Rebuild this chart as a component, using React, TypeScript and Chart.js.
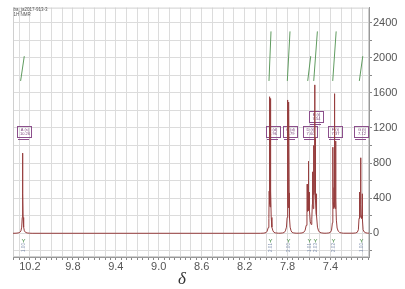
import { useEffect, useRef } from 'react';
import { Chart, registerables } from 'chart.js';

Chart.register(...registerables);

const sampleName = 'ba_ja2017-913-3';
const experimentName = '1H NMR';
const axisTitle = 'δ';

const xLabelValues = [10.2, 9.8, 9.4, 9.0, 8.6, 8.2, 7.8, 7.4];
const yLabelValues = [0, 400, 800, 1200, 1600, 2000, 2400];
const yTickValues = [-200, 0, 200, 400, 600, 800, 1000, 1200, 1400, 1600, 1800, 2000, 2200, 2400];

// spectrum segments: [ppm, intensity]
const signal1026 = [
  [10.358, 0], [10.33, 1], [10.31, 4], [10.295, 10], [10.284, 28], [10.277, 70], [10.272, 180],
  [10.27, 450], [10.268, 913], [10.266, 450], [10.264, 180], [10.259, 70], [10.252, 28],
  [10.241, 10], [10.226, 4], [10.205, 1], [10.18, 0],
];
const signal796 = [
  [8.05, 0], [8.02, 2], [8.0, 8], [7.99, 24], [7.98, 65], [7.974, 170], [7.971, 480], [7.969, 1555],
  [7.967, 480], [7.965, 330], [7.963, 300], [7.961, 330], [7.959, 480], [7.957, 1535], [7.955, 480],
  [7.952, 180], [7.946, 70], [7.936, 28], [7.926, 10], [7.91, 4], [7.885, 1],
];
const signal779 = [
  [7.87, 1], [7.845, 4], [7.83, 10], [7.82, 28], [7.81, 70], [7.804, 180], [7.801, 470], [7.799, 1518],
  [7.797, 470], [7.795, 320], [7.793, 290], [7.791, 320], [7.789, 460], [7.787, 1495], [7.785, 460],
  [7.782, 175], [7.776, 70], [7.767, 28], [7.757, 10], [7.742, 4], [7.72, 1],
];
const signal760 = [
  [7.69, 1], [7.665, 4], [7.648, 12], [7.636, 35], [7.626, 90], [7.619, 250], [7.617, 560], [7.615, 280],
  [7.612, 250], [7.609, 360], [7.607, 820], [7.605, 360], [7.602, 260], [7.599, 280], [7.597, 470],
  [7.595, 260], [7.588, 130], [7.58, 100], [7.574, 160], [7.569, 330], [7.567, 700], [7.565, 330],
];
const signal754 = [
  [7.561, 280], [7.558, 420], [7.556, 1000], [7.554, 440], [7.55, 480], [7.547, 1690], [7.545, 620],
  [7.543, 420], [7.541, 1080], [7.539, 380], [7.534, 220], [7.531, 450], [7.529, 200], [7.521, 70],
  [7.511, 28], [7.499, 10], [7.481, 4], [7.46, 1],
];
const signal737 = [
  [7.44, 1], [7.415, 4], [7.4, 12], [7.39, 35], [7.382, 120], [7.379, 350], [7.377, 980], [7.375, 350],
  [7.372, 280], [7.368, 300], [7.366, 520], [7.364, 1590], [7.362, 520], [7.359, 300], [7.355, 280],
  [7.353, 380], [7.351, 1050], [7.349, 380], [7.345, 150], [7.338, 60], [7.328, 25], [7.315, 10],
  [7.3, 4], [7.28, 1],
];
const signal712 = [
  [7.19, 1], [7.165, 4], [7.15, 12], [7.14, 40], [7.134, 170], [7.132, 470], [7.13, 200], [7.126, 170],
  [7.122, 190], [7.12, 330], [7.118, 860], [7.116, 330], [7.114, 190], [7.11, 170], [7.106, 200],
  [7.104, 450], [7.102, 170], [7.096, 40], [7.085, 14], [7.07, 5], [7.055, 2], [7.041, 1],
];

// multiplet annotation boxes
const multipletNames = ['A (s)', 'B (d)', 'C (d)', 'D (t)', 'E (t)', 'F (t)', 'G (t)'];
const multipletShifts = ['10.26', '7.96', '7.79', '7.60', '7.54', '7.37', '7.12'];
const multipletBoxPpm = [10.251, 7.94, 7.777, 7.591, 7.535, 7.358, 7.111];
const multipletBoxLevel = [1160, 1160, 1160, 1160, 1330, 1160, 1160];

// integrals
const integralValues = ['1.00', '2.01', '2.00', '1.01', '2.03', '2.02', '1.00'];
const integralLabelPpm = [10.262, 7.963, 7.793, 7.597, 7.544, 7.373, 7.115];
const integralStartPpm = [10.287, 7.973, 7.802, 7.612, 7.556, 7.379, 7.131];
const integralEndPpm = [10.253, 7.954, 7.777, 7.584, 7.522, 7.347, 7.099];
const integralBottom = [1735, 1735, 1735, 1735, 1735, 1735, 1735];
const integralTop = [2017, 2299, 2299, 2017, 2299, 2299, 2017];

const spectrum = [
  ...signal1026, ...signal796, ...signal779, ...signal760, ...signal754, ...signal737, ...signal712,
];

const xTickValues: number[] = [];
for (let i = 141; i <= 207; i++) xTickValues.push(Math.round(i * 5) / 100);

const isTenth = (v: number) => Math.abs(v * 10 - Math.round(v * 10)) < 1e-6;

const annotations = {
  id: 'nmrAnnotations',
  beforeDatasetsDraw(chart: any) {
    const { ctx, chartArea, scales } = chart;
    const x = scales.x;
    const y = scales.y;
    ctx.save();
    // plot border
    ctx.strokeStyle = '#cfcfcf';
    ctx.lineWidth = 1;
    ctx.strokeRect(chartArea.left + 0.5, chartArea.top + 0.5, chartArea.right - chartArea.left - 1, chartArea.bottom - chartArea.top - 1);
    // multiplet boxes
    for (let i = 0; i < multipletNames.length; i++) {
      const cx = x.getPixelForValue(multipletBoxPpm[i]);
      const cy = y.getPixelForValue(multipletBoxLevel[i]);
      const w = 14;
      const h = 11;
      ctx.strokeStyle = '#8c4f8c';
      ctx.lineWidth = 1;
      ctx.strokeRect(Math.round(cx - w / 2) + 0.5, Math.round(cy - h / 2) + 0.5, w, h);
      ctx.beginPath();
      ctx.moveTo(Math.round(cx - w / 2) + 1, Math.round(cy + h / 2) + 2.5);
      ctx.lineTo(Math.round(cx + w / 2) - 2, Math.round(cy + h / 2) + 2.5);
      ctx.stroke();
      ctx.fillStyle = '#7a3f7a';
      ctx.font = '4px "Liberation Sans"';
      ctx.textAlign = 'center';
      ctx.textBaseline = 'middle';
      ctx.fillText(multipletNames[i], cx + 0.5, cy - 2);
      ctx.fillText(multipletShifts[i], cx + 0.5, cy + 2.5);
    }
    ctx.restore();
  },
  afterDatasetsDraw(chart: any) {
    const { ctx, chartArea, scales } = chart;
    const x = scales.x;
    ctx.save();
    // header
    ctx.fillStyle = '#555';
    ctx.font = '4.5px "Liberation Sans"';
    ctx.textAlign = 'left';
    ctx.textBaseline = 'middle';
    ctx.fillText(sampleName, chartArea.left + 0.5, chartArea.top + 2);
    ctx.fillText(experimentName, chartArea.left + 0.5, chartArea.top + 7);
    // integral labels
    for (let i = 0; i < integralValues.length; i++) {
      const px = Math.round(x.getPixelForValue(integralLabelPpm[i])) + 0.5;
      ctx.strokeStyle = '#5f9a5f';
      ctx.lineWidth = 0.8;
      ctx.beginPath();
      ctx.moveTo(px - 1.5, 239);
      ctx.lineTo(px, 241);
      ctx.lineTo(px + 1.5, 239);
      ctx.moveTo(px, 241);
      ctx.lineTo(px, 242.5);
      ctx.stroke();
      ctx.save();
      ctx.translate(px, 247.5);
      ctx.rotate(-Math.PI / 2);
      ctx.fillStyle = '#7f8fae';
      ctx.font = '4.5px "Liberation Sans"';
      ctx.textAlign = 'center';
      ctx.textBaseline = 'middle';
      ctx.fillText(integralValues[i], 0, 0);
      ctx.restore();
    }
    // axis title
    ctx.fillStyle = '#333';
    ctx.font = 'italic 17px "Liberation Serif"';
    ctx.textAlign = 'center';
    ctx.textBaseline = 'middle';
    ctx.fillText(axisTitle, 182, 280);
    ctx.restore();
  },
};

export default function App() {
  const canvasRef = useRef<HTMLCanvasElement | null>(null);

  useEffect(() => {
    document.body.style.margin = '0';
    document.body.style.background = '#fff';
    const canvas = canvasRef.current;
    if (!canvas) return;
    const integralSets = integralValues.map((_, i) => ({
      data: [
        { x: integralStartPpm[i], y: integralBottom[i] },
        { x: integralEndPpm[i], y: integralTop[i] },
      ],
      borderColor: 'rgb(95,155,95)',
      borderWidth: 1,
      pointRadius: 0,
      tension: 0,
    }));
    const chart = new Chart(canvas, {
      type: 'line',
      data: {
        datasets: [
          {
            data: spectrum.map(([px, py]) => ({ x: px, y: py })),
            borderColor: 'rgb(150,62,62)',
            borderWidth: 1,
            pointRadius: 0,
            tension: 0,
          },
          ...integralSets,
        ],
      },
      options: {
        animation: false,
        responsive: true,
        maintainAspectRatio: false,
        plugins: { legend: { display: false }, tooltip: { enabled: false } },
        layout: { padding: { left: 13, top: 5, right: 0, bottom: 0 } },
        scales: {
          x: {
            type: 'linear',
            reverse: true,
            min: 7.041,
            max: 10.358,
            afterBuildTicks: (s: any) => {
              s.ticks = xTickValues.map((v) => ({ value: v }));
            },
            afterFit: (s: any) => {
              s.height = 32;
            },
            ticks: {
              autoSkip: false,
              maxRotation: 0,
              padding: 0,
              color: '#555',
              font: { family: 'Liberation Sans', size: 11 },
              callback: (v: any) =>
                xLabelValues.some((l) => Math.abs(l - Number(v)) < 1e-6) ? Number(v).toFixed(1) : '',
            },
            grid: {
              color: (c: any) => (c.tick && isTenth(c.tick.value) ? '#dcdcdc' : 'rgba(0,0,0,0)'),
              tickColor: '#888',
              tickLength: 3,
            },
            border: { display: true, color: '#999' },
          },
          y: {
            type: 'linear',
            position: 'right',
            min: -270,
            max: 2570,
            afterBuildTicks: (s: any) => {
              s.ticks = yTickValues.map((v) => ({ value: v }));
            },
            afterFit: (s: any) => {
              s.width = 36;
            },
            ticks: {
              autoSkip: false,
              padding: 1,
              color: '#555',
              font: { family: 'Liberation Sans', size: 11 },
              callback: (v: any) => (yLabelValues.includes(Number(v)) ? String(v) : ''),
            },
            grid: { color: '#dcdcdc', tickColor: '#888', tickLength: 3 },
            border: { display: true, color: '#999' },
          },
        },
      },
      plugins: [annotations],
    });
    return () => chart.destroy();
  }, []);

  return (
    <div style={{ width: 405, height: 289, position: 'relative', background: '#fff' }}>
      <canvas ref={canvasRef} />
    </div>
  );
}
